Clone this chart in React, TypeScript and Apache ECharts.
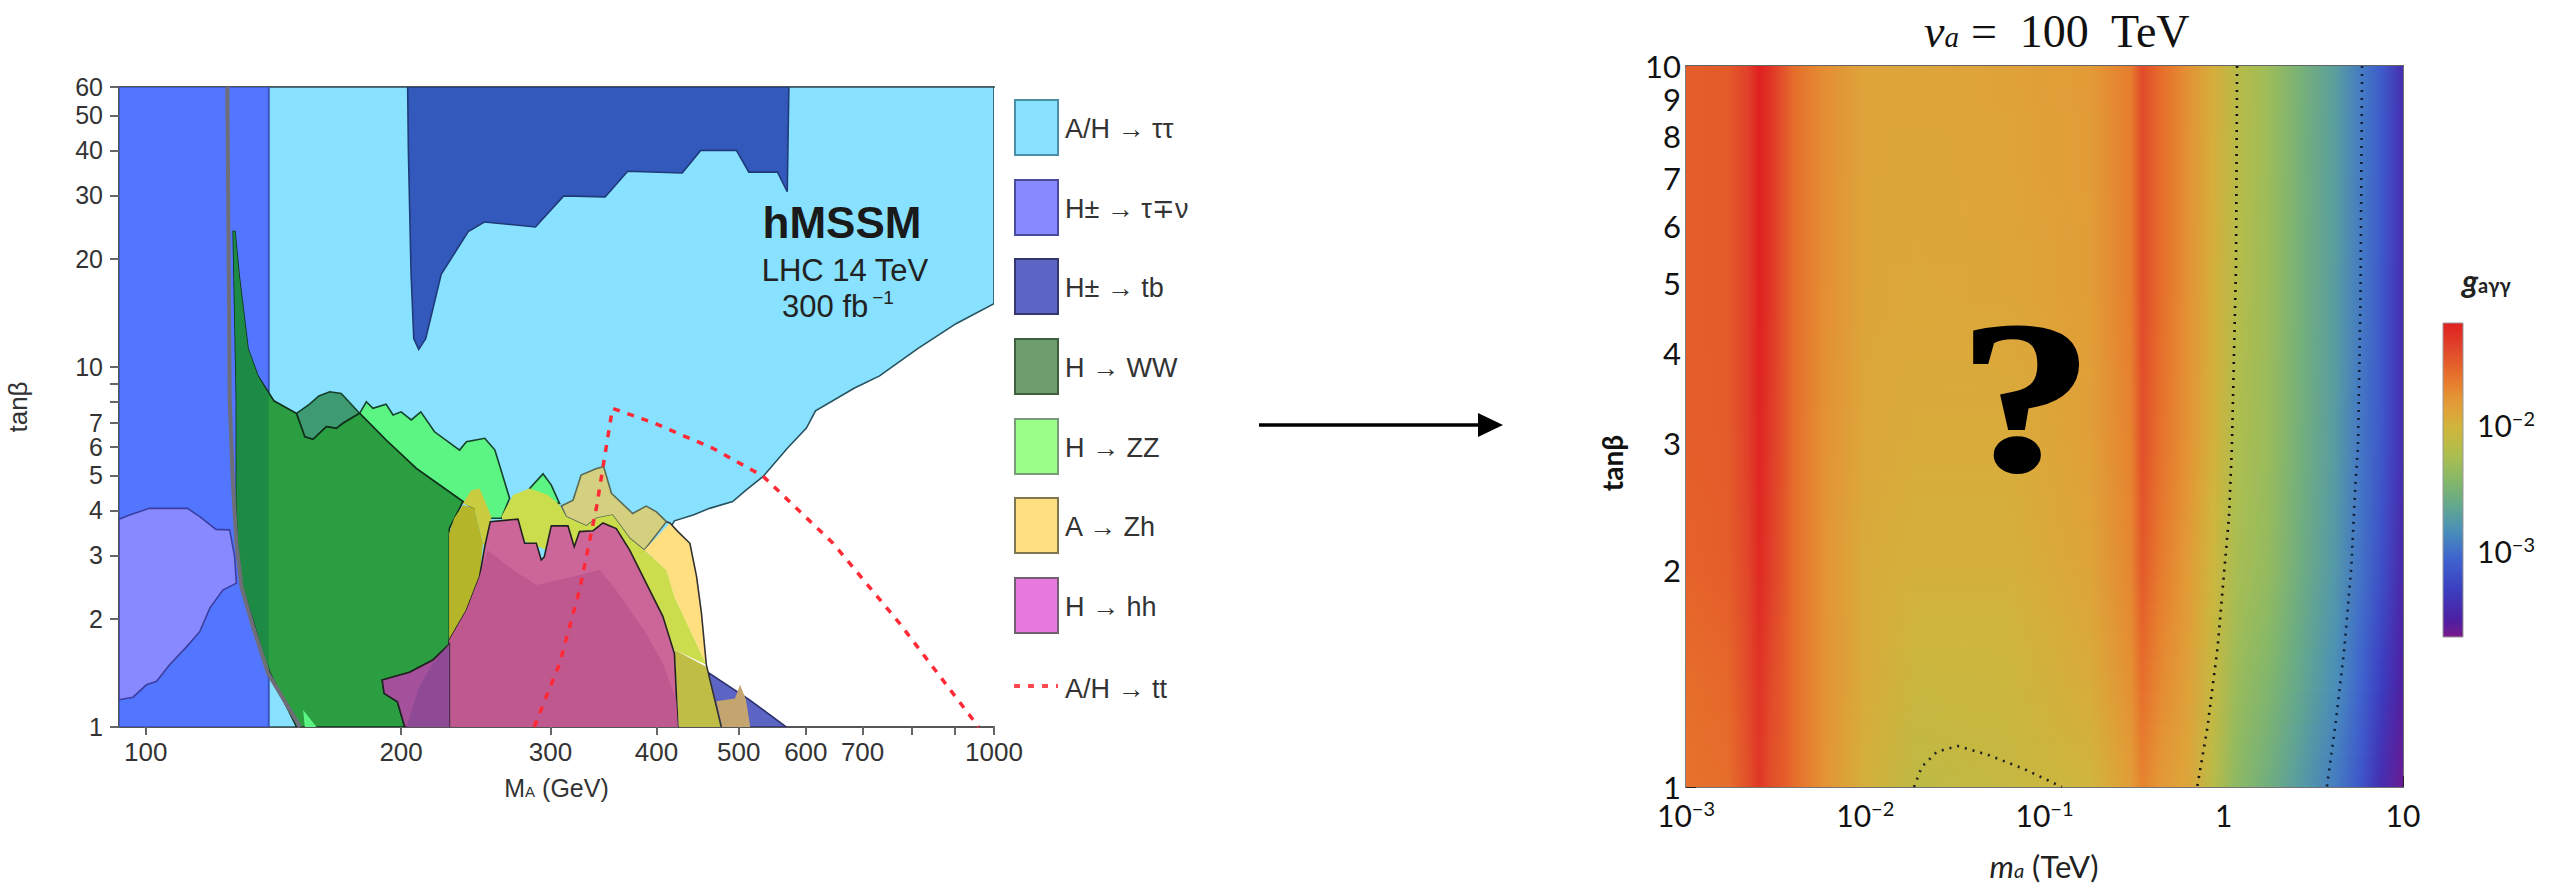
import React, { useEffect, useRef } from "react";
import * as echarts from "echarts";

// ---------- left panel: exclusion regions as [M_A (GeV), tanβ] ----------
const tauTau = [[139.6,60],[1000,60],[1000,15],[902,13.2],[813,11.25],[733,9.45],[684,8.73],[616,7.56],[601,6.77],[571,5.96],[534,4.96],[510,4.55],[492,4.23],[462,4.05],[442,3.88],[420,3.74],[300,1],[139.6,1]];
const tbTop = [[203.6,60],[204,40],[205.5,18.1],[207,12],[209.8,11.2],[213.8,12],[218,14.5],[223,18.1],[240,23.8],[250.7,25.3],[288,24.5],[311,29.9],[348,29.7],[370,35],[429,34.6],[451,40],[497,40],[514,34.8],[555.6,34.8],[570.5,30.7],[573,60]];
const tbBottom = [[462,1.41],[515,1.19],[569,1],[450,1]];
const lowMassBlue = [[93,60],[139.6,60],[139.6,1],[93,1]];
const tauNu = [[93,3.78],[95.7,3.88],[101,4.05],[112,4.05],[115.8,3.84],[121,3.54],[125.6,3.53],[127.3,2.97],[127.9,2.51],[123.3,2.4],[119,2.14],[115.8,1.84],[111.7,1.67],[106.7,1.49],[103,1.34],[100.2,1.31],[96.6,1.21],[93,1.19]];
const zz = [[178.7,7.44],[182,8.01],[185.3,7.68],[192,7.89],[195.7,7.36],[200,7.51],[205.6,7.13],[211,7.51],[219,6.61],[234.4,5.88],[238.8,6.2],[251,6.34],[258,5.88],[268.5,4.32],[262.6,3.8],[254,3.8],[236.6,4.23],[208.4,5.23],[192,6.27]];
const zzBump = [[283.5,4.6],[294,5.05],[300.7,4.7],[307.5,4.18],[286,4.18]];
const zzSliver = [[153.3,1.115],[159,1],[154,1]];
const wwTeal = [[150.6,7.44],[156,7.89],[160,8.31],[164.8,8.54],[170,8.45],[178.7,7.44],[170.8,6.98],[167.8,6.76],[163.3,6.83],[157.5,6.3],[154,6.4]];
const wwGreen = [[127.4,23.8],[128.8,18.1],[132,11.25],[135.6,9.45],[141.6,8.06],[150.5,7.44],[154,6.4],[157.5,6.3],[163.3,6.83],[167.8,6.76],[170.8,6.98],[178.7,7.44],[192,6.27],[208.4,5.23],[236.6,4.23],[228,3.56],[228,1.7],[218,1.535],[204.7,1.42],[190,1.35],[191,1.24],[198,1.175],[202,1],[150.6,1],[140,1.42],[134.4,1.94],[130.2,2.45],[128.5,3.24],[127.9,4.27],[127.9,8.1],[126.8,23.8]];
const wwOverBlue = [[127.4,23.8],[128.8,18.1],[132,11.25],[135.6,9.45],[139.6,8.4],[139.6,1.42],[134.4,1.94],[130.2,2.45],[128.5,3.24],[127.9,4.27],[127.9,8.1],[126.8,23.8]];
const zhKhaki = [[309,4.11],[319,4.27],[326,5.01],[340,5.23],[346.6,5.29],[354,4.46],[375,3.92],[389,4.11],[400,3.96],[411,3.72],[387,3.1],[372,3.34],[355,3.88],[340,3.8],[330.7,3.62],[313,3.84]];
const zhPale = [[387,3.1],[415,3.69],[424,3.49],[438,3.24],[446,2.62],[452,2.07],[458,1.49],[420,2.3],[411,2.73]];
const zhLime = [[262.6,3.84],[271,4.41],[283.5,4.6],[298,4.41],[307.5,4.14],[313,3.84],[330.7,3.62],[340,3.8],[355,3.88],[372,3.34],[387,3.1],[411,2.73],[420,2.3],[458,1.49],[420,1.64],[343,2.7],[270,3.4]];
const zhStrip = [[236.6,4.18],[242,4.55],[247.5,4.6],[255.6,3.84],[254.8,3.72],[251,3.17],[249.8,3.24],[244,4.05]];
const zhOlive = [[227.8,3.45],[231,3.8],[236.6,4.14],[244,4.05],[249.8,3.24],[247.5,2.62],[238.8,2.11],[227.8,1.74]];
const zhLower = [[420,1.64],[458,1.47],[477,1],[425,1]];
const zhOverTb = [[470.6,1.18],[495,1.2],[502,1.31],[510,1.19],[516,1],[478,1]];
const hhUpper = [[227.8,1],[227.8,1.74],[238.8,2.11],[247.5,2.62],[251,3.17],[254.8,3.72],[274.7,3.78],[279.7,3.24],[288.7,3.24],[292.6,2.91],[295,2.97],[300.7,3.62],[314.6,3.62],[320,3.17],[324.6,3.49],[336.8,3.51],[346,3.69],[358.7,3.56],[372,3.1],[389,2.51],[407,2.03],[420,1.6],[424,1]];
const hhLower = [[227.8,1],[227.8,1.74],[238.8,2.11],[247.5,2.62],[253,3.1],[271,2.73],[288.7,2.48],[313,2.59],[343,2.73],[358.7,2.4],[389,1.82],[407,1.5],[422,1.19],[424,1]];
const hhPurple = [[190,1.35],[191,1.24],[198,1.175],[202,1],[228,1],[228,1.7],[218,1.535],[204.7,1.42]];
const hhPurpleDark = [[203,1],[210,1.29],[218,1.5],[228,1.7],[228,1]];
const ttLine = [[287,1],[307.5,1.5],[324.6,2.4],[340,4.09],[355,7.68],[398,6.98],[466,5.95],[534,4.98],[646,3.24],[774,1.94],[959,1]];
const higgsCurve = [[124.8,60],[125.6,8.1],[126.7,4.75],[127.9,3.24],[129.7,2.45],[133.8,1.9],[139.4,1.41],[152,1]];
const zhEdge = [[411,3.72],[415,3.69],[424,3.49],[438,3.24],[446,2.62],[452,2.07],[458,1.49],[477,1]];

const leftXLabels = [100, 200, 300, 400, 500, 600, 700, 1000];
const leftXTicks = [100, 200, 300, 400, 500, 600, 700, 800, 900, 1000];
const leftYLabels = [1, 2, 3, 4, 5, 6, 7, 10, 20, 30, 40, 50, 60];
const leftYTicks = [1, 2, 3, 4, 5, 6, 7, 8, 9, 10, 20, 30, 40, 50, 60];

const legendNames = ["A/H → ττ", "H± → τ∓ν", "H± → tb", "H → WW", "H → ZZ", "A → Zh", "H → hh"];
const legendFills = ["#87E1FF", "#8888FF", "#5C64C4", "#6E9E6E", "#99FF88", "#FFDE7F", "#E678DE"];
const legendEdges = ["#4A8FA8", "#4A4AA0", "#33366F", "#3F5F3F", "#7A9A7A", "#807750", "#706070"];

// ---------- right panel: log10(g) per tanβ row at each m_a (TeV) ----------
const maStations = [0.001,0.00171,0.00222,0.00257,0.00299,0.00351,0.00401,0.00594,0.01,0.0194,0.0631,0.179,0.303,0.351,0.45,0.624,0.867,1.2,1.78,2.63,4.17,5.79,7.53,10];
const tanRows = [10, 5, 3, 2, 1.4, 1];
const logG10 = [-1.49,-1.47,-1.34,-1.17,-1.29,-1.44,-1.57,-1.73,-1.88,-1.89,-1.86,-1.8,-1.64,-1.39,-1.57,-1.74,-1.94,-2.14,-2.29,-2.49,-2.69,-2.91,-3.08,-3.41];
const logG5 = [-1.49,-1.47,-1.34,-1.17,-1.29,-1.44,-1.57,-1.73,-1.89,-1.9,-1.89,-1.82,-1.64,-1.39,-1.57,-1.74,-1.95,-2.16,-2.3,-2.5,-2.7,-2.92,-3.1,-3.41];
const logG3 = [-1.49,-1.48,-1.34,-1.19,-1.32,-1.44,-1.57,-1.75,-1.9,-1.93,-1.93,-1.84,-1.67,-1.42,-1.59,-1.75,-1.96,-2.21,-2.31,-2.51,-2.71,-2.94,-3.11,-3.41];
const logG2 = [-1.52,-1.49,-1.37,-1.22,-1.34,-1.45,-1.57,-1.76,-1.93,-1.96,-1.96,-1.88,-1.69,-1.47,-1.64,-1.79,-2.01,-2.24,-2.34,-2.54,-2.74,-2.96,-3.16,-3.46];
const logG14 = [-1.57,-1.54,-1.39,-1.27,-1.39,-1.47,-1.57,-1.75,-1.93,-2.03,-2.02,-1.93,-1.74,-1.57,-1.71,-1.84,-2.06,-2.31,-2.44,-2.61,-2.81,-3.03,-3.28,-3.53];
const logG1 = [-1.59,-1.57,-1.42,-1.29,-1.42,-1.47,-1.57,-1.76,-1.96,-2.11,-2.06,-1.99,-1.81,-1.67,-1.79,-1.89,-2.14,-2.39,-2.54,-2.71,-2.91,-3.13,-3.41,-3.61];
const logGRows = [logG10, logG5, logG3, logG2, logG14, logG1];

const contourA = [[1.187,10],[1.17,5.26],[1.11,2.96],[1.07,2.37],[1,1.96],[0.925,1.565],[0.811,1.21],[0.711,1]];
const contourB = [[5.91,10],[5.79,4.74],[5.61,2.96],[5.43,2.64],[5.15,2.02],[4.7,1.55],[4.18,1.21],[3.76,1]];
const contourC = [[0.0187,1],[0.0207,1.067],[0.0251,1.119],[0.0327,1.14],[0.0484,1.108],[0.0765,1.06],[0.125,1]];

const rightXLabels = [0.001, 0.01, 0.1, 1, 10];
const rightYLabels = [1, 2, 3, 4, 5, 6, 7, 8, 9, 10];

// colour bar
const gMin = 2.2e-4;
const gMax = 0.068;
const barPalette: [number, string][] = [[0,"#E02020"],[0.07,"#E0402A"],[0.15,"#E6682A"],[0.2,"#E6822F"],[0.25,"#E39A36"],[0.29,"#DDA53A"],[0.33,"#D0B53C"],[0.38,"#BDBA45"],[0.42,"#ACBE50"],[0.5,"#86B868"],[0.58,"#64A88C"],[0.66,"#4A90B8"],[0.75,"#3F64CE"],[0.85,"#3C3EC0"],[0.95,"#4F1EA0"],[1,"#7A1A8C"]];
const barLabels = [0.01, 0.001];
const barTicks = [0.06,0.05,0.04,0.03,0.02,0.01,0.009,0.008,0.007,0.006,0.005,0.004,0.003,0.002,0.001,0.0009,0.0008,0.0007,0.0006,0.0005,0.0004,0.0003];

const hex = (c: string) => [1, 3, 5].map((i) => parseInt(c.slice(i, i + 2), 16));
function paletteAt(t: number) {
  const v = Math.max(0, Math.min(1, t));
  for (let i = 1; i < barPalette.length; i++) {
    if (v <= barPalette[i][0]) {
      const [t0, c0] = barPalette[i - 1];
      const [t1, c1] = barPalette[i];
      const f = (v - t0) / (t1 - t0);
      const a = hex(c0), b = hex(c1);
      return `rgb(${a.map((x, k) => Math.round(x + (b[k] - x) * f)).join(",")})`;
    }
  }
  return barPalette[barPalette.length - 1][1];
}
const logTop = Math.log10(gMax);
const logBottom = Math.log10(gMin);
const colorOf = (logG: number) => paletteAt((logTop - logG) / (logTop - logBottom));

const SANS = "Liberation Sans";
const RIGHT = "Lato";

function region(name: string, points: number[][], fill: string, stroke?: string) {
  return {
    type: "custom", name, coordinateSystem: "cartesian2d", xAxisIndex: 0, yAxisIndex: 0,
    data: points, encode: { x: 0, y: 1 }, silent: true, clip: true,
    renderItem: (p: any, api: any) =>
      p.dataIndex === 0
        ? { type: "polygon", shape: { points: points.map((q) => api.coord(q)) },
            style: { fill, stroke: stroke ?? "none", lineWidth: stroke ? 1.6 : 0 } }
        : null,
  };
}
function edge(name: string, points: number[][], color: string, width: number, type: any, xi = 0, yi = 0) {
  return { type: "line", name, xAxisIndex: xi, yAxisIndex: yi, data: points, showSymbol: false, symbol: "none",
    silent: true, lineStyle: { color, width, type }, z: 5 };
}
const powerLabel = (v: number) => {
  if (v === 1) return "{n|1}";
  if (v === 10) return "{n|10}";
  return `{n|10}{e|−${Math.round(-Math.log10(v))}}`;
};
const powerRich = {
  n: { fontFamily: RIGHT, fontSize: 30, color: "#111", lineHeight: 24, verticalAlign: "bottom" },
  e: { fontFamily: RIGHT, fontSize: 20, color: "#111", lineHeight: 20, padding: [0, 0, 12, 0], verticalAlign: "bottom" },
};

function buildOption() {
  const slices: number[][] = [];
  const perRow = 10;
  for (let r = 0; r < tanRows.length - 1; r++) for (let s = 0; s < perRow; s++) slices.push([r, s]);

  const heat = {
    type: "custom", name: "g_aγγ", coordinateSystem: "cartesian2d", xAxisIndex: 2, yAxisIndex: 2,
    data: slices, silent: true,
    renderItem: (p: any, api: any) => {
      const [r, s] = slices[p.dataIndex];
      const lt0 = Math.log10(tanRows[r]), lt1 = Math.log10(tanRows[r + 1]);
      const a = 10 ** (lt0 + ((lt1 - lt0) * s) / perRow);
      const b = 10 ** (lt0 + ((lt1 - lt0) * (s + 1)) / perRow);
      const f = (s + 0.5) / perRow;
      const p0 = api.coord([maStations[0], a]);
      const p1 = api.coord([maStations[maStations.length - 1], b]);
      const stops = maStations.map((m, i) => ({
        offset: (Math.log10(m) + 3) / 4,
        color: colorOf(logGRows[r][i] + (logGRows[r + 1][i] - logGRows[r][i]) * f),
      }));
      const bottomSlice = r === tanRows.length - 2 && s === perRow - 1;
      return { type: "rect", shape: { x: p0[0], y: p0[1], width: p1[0] - p0[0], height: p1[1] - p0[1] + (bottomSlice ? 0 : 1) },
        style: { fill: new echarts.graphic.LinearGradient(0, 0, 1, 0, stops) } };
    },
  };
  const bar = {
    type: "custom", name: "colour bar", coordinateSystem: "cartesian2d", xAxisIndex: 4, yAxisIndex: 3,
    data: [[0, gMax]], silent: true,
    renderItem: (_: any, api: any) => {
      const a = api.coord([0, gMax]);
      const b = api.coord([1, gMin]);
      return { type: "rect", shape: { x: a[0], y: a[1], width: b[0] - a[0], height: b[1] - a[1] },
        style: { fill: new echarts.graphic.LinearGradient(0, 0, 0, 1, barPalette.map(([offset, color]) => ({ offset, color }))),
          stroke: "#999", lineWidth: 1 } };
    },
  };

  const graphics: any[] = [];
  const txt = (text: string, x: number, y: number, fontSize: number, o: any = {}) =>
    graphics.push({ type: "text", x, y, z: 100, rotation: o.rotation ?? 0, scaleX: o.scaleX ?? 1,
      style: { text, fontSize, fontFamily: o.fontFamily ?? SANS, fontWeight: o.fontWeight ?? "normal", fontStyle: o.fontStyle ?? "normal",
        fill: o.fill ?? "#222", stroke: o.stroke, lineWidth: o.lineWidth, align: o.align ?? "left", verticalAlign: "middle", rich: o.rich } });

  const swY = [100, 180, 259, 339, 419, 498, 578];
  legendNames.forEach((n, i) => {
    graphics.push({ type: "rect", z: 100, shape: { x: 1015, y: swY[i], width: 43, height: 55 },
      style: { fill: legendFills[i], stroke: legendEdges[i], lineWidth: 2 } });
    txt(n, 1065, swY[i] + 29, 27, { fill: "#333" });
  });
  graphics.push({ type: "line", z: 100, shape: { x1: 1014, y1: 686, x2: 1058, y2: 686 },
    style: { stroke: "#FF4A50", lineWidth: 4, lineDash: [6, 8] } });
  txt("A/H → tt", 1065, 689, 27, { fill: "#333" });

  txt("hMSSM", 842, 222, 44, { align: "center", fontWeight: "bold", fill: "#1a1a1a" });
  txt("LHC 14 TeV", 845, 270, 31, { align: "center", fill: "#222" });
  txt("{a|300 fb}{b|−1}", 838, 306, 31, { align: "center", rich: {
    a: { fontFamily: SANS, fontSize: 31, color: "#222" },
    b: { fontFamily: SANS, fontSize: 19, color: "#222", padding: [0, 0, 18, 4] } } });

  // arrow between the panels
  graphics.push({ type: "line", z: 100, shape: { x1: 1259, y1: 425, x2: 1482, y2: 425 }, style: { stroke: "#000", lineWidth: 3.5 } });
  graphics.push({ type: "polygon", z: 100, shape: { points: [[1478, 413], [1503, 425], [1478, 437]] }, style: { fill: "#000" } });

  txt("?", 2026, 397, 215, { align: "center", fontFamily: "Liberation Serif", fontWeight: "bold", fill: "#000", scaleX: 1.25, stroke: "#000", lineWidth: 3 });
  txt("tanβ", 1612, 463, 28, { align: "center", fontFamily: RIGHT, fontWeight: "bold", rotation: Math.PI / 2, fill: "#111" });
  txt("{g|g}{s|aγγ}", 2462, 280, 30, { rich: {
    g: { fontFamily: RIGHT, fontStyle: "italic", fontWeight: "bold", fontSize: 32, color: "#111" },
    s: { fontFamily: RIGHT, fontWeight: "bold", fontSize: 20, color: "#111", padding: [10, 0, 0, 0] } } });
  txt("{i|m}{j|a}{k| (TeV)}", 2044, 866, 31, { align: "center", rich: {
    i: { fontFamily: RIGHT, fontStyle: "italic", fontSize: 31, color: "#111" },
    j: { fontFamily: RIGHT, fontStyle: "italic", fontSize: 20, color: "#111", padding: [8, 0, 0, 0] },
    k: { fontFamily: RIGHT, fontSize: 31, color: "#111" } } });

  const logAxis = (extra: any) => ({ type: "log", logBase: 10, splitLine: { show: false }, minorTick: { show: false }, ...extra });
  const blankLine = (color: string, width = 2) => ({ show: true, onZero: false, lineStyle: { color, width } });

  return {
    animation: false,
    backgroundColor: "#fff",
    title: {
      text: "{v|v}{a|a}{t| =  100  TeV}", left: 2052, top: 3, textAlign: "center",
      textStyle: { fontWeight: "normal", rich: {
        v: { fontFamily: "Liberation Serif", fontStyle: "italic", fontWeight: "normal", fontSize: 46, color: "#111" },
        a: { fontFamily: "Liberation Serif", fontStyle: "italic", fontWeight: "normal", fontSize: 29, color: "#111", padding: [12, 0, 0, 0] },
        t: { fontFamily: "Liberation Serif", fontWeight: "normal", fontSize: 46, color: "#111" },
      } },
    },
    grid: [
      { left: 119, top: 87, width: 875, height: 640, outerBoundsMode: "none" },
      { left: 1686, top: 66, width: 717, height: 721, outerBoundsMode: "none" },
      { left: 2443, top: 323, width: 20, height: 314, outerBoundsMode: "none" },
    ],
    xAxis: [
      logAxis({ gridIndex: 0, min: 93, max: 1000, position: "bottom", axisLine: blankLine("#555"),
        axisTick: { show: true, length: 8, customValues: leftXTicks, lineStyle: { color: "#666", width: 2 } },
        axisLabel: { show: true, customValues: leftXLabels, formatter: (v: number) => String(Math.round(v)), fontFamily: SANS, fontSize: 26, color: "#333", margin: 12 },
        name: "{m|M}{s|A}{m| (GeV)}", nameLocation: "middle", nameGap: 48,
        nameTextStyle: { rich: { m: { fontFamily: SANS, fontSize: 25, color: "#333" }, s: { fontFamily: SANS, fontSize: 15, color: "#333", padding: [8, 0, 0, 0] } } } }),
      logAxis({ gridIndex: 0, min: 93, max: 1000, position: "top", axisLine: blankLine("#555"), axisTick: { show: false }, axisLabel: { show: false } }),
      logAxis({ gridIndex: 1, min: 0.001, max: 10, position: "bottom", axisLine: blankLine("#444", 1.5),
        axisTick: { show: true, inside: true, length: 11, customValues: rightXLabels, lineStyle: { color: "#222", width: 1 } },
        axisLabel: { show: true, customValues: rightXLabels, formatter: powerLabel, rich: powerRich, margin: 19 } }),
      logAxis({ gridIndex: 1, min: 0.001, max: 10, position: "top", axisLine: blankLine("#333", 1.5), axisTick: { show: false }, axisLabel: { show: false } }),
      { type: "value", gridIndex: 2, min: 0, max: 1, show: false },
    ],
    yAxis: [
      logAxis({ gridIndex: 0, min: 1, max: 60, position: "left", axisLine: blankLine("#555"),
        axisTick: { show: true, length: 9, customValues: leftYTicks, lineStyle: { color: "#666", width: 2 } },
        axisLabel: { show: true, customValues: leftYLabels, formatter: (v: number) => String(Math.round(v)), fontFamily: SANS, fontSize: 25, lineHeight: 20, color: "#333", margin: 16 },
        name: "tanβ", nameLocation: "middle", nameGap: 88, nameTextStyle: { fontFamily: SANS, fontSize: 26, color: "#333" } }),
      logAxis({ gridIndex: 1, min: 1, max: 10, position: "left", axisLine: blankLine("#555", 1.5),
        axisTick: { show: true, inside: true, length: 10, customValues: rightYLabels, lineStyle: { color: "#222", width: 1 } },
        axisLabel: { show: true, customValues: rightYLabels, formatter: (v: number) => String(Math.round(v)), fontFamily: RIGHT, fontSize: 31, lineHeight: 22, color: "#111", margin: 5 } }),
      logAxis({ gridIndex: 1, min: 1, max: 10, position: "right", axisLine: blankLine("#444", 1.5), axisTick: { show: false }, axisLabel: { show: false } }),
      logAxis({ gridIndex: 2, min: gMin, max: gMax, position: "right", axisLine: { show: false },
        axisTick: { show: true, length: 7, customValues: barTicks, lineStyle: { color: "#999", width: 1.5 } },
        axisLabel: { show: true, customValues: barLabels, formatter: powerLabel, rich: powerRich, margin: 14 } }),
    ],
    graphic: graphics,
    series: [
      region("A/H → ττ", tauTau, "#87E1FF", "#27525F"),
      region("H± → tb", tbTop, "#3359BD", "#1F3A78"),
      region("H± → tb low", tbBottom, "#5C64C4", "#2A2F6A"),
      region("low mass", lowMassBlue, "#5276FF", "#3A4FC0"),
      region("H± → τν", tauNu, "#8888FF", "#3A3FA0"),
      region("H → ZZ", zz, "#5CF584", "#15402A"),
      region("H → ZZ bump", zzBump, "#5CF584", "#15402A"),
      region("H → WW over ττ", wwTeal, "#3E9A70", "#15402A"),
      region("H → WW", wwGreen, "#2A9E40", "#10301A"),
      region("H → WW over blue", wwOverBlue, "#1D8A45"),
      region("H → ZZ sliver", zzSliver, "#5CF584"),
      region("A → Zh over ττ", zhKhaki, "#D4D080", "#5A6A55"),
      region("A → Zh", zhPale, "#FFDF80"),
      region("A → Zh over ZZ", zhLime, "#CBDC4C"),
      region("A → Zh strip", zhStrip, "#C9CC3F"),
      region("A → Zh over WW", zhOlive, "#B5B52A"),
      region("A → Zh low", zhLower, "#BFBD45"),
      region("A → Zh over tb", zhOverTb, "#C4A56F"),
      region("H → hh", hhUpper, "#CC6699", "#222222"),
      region("H → hh inner", hhLower, "#C05890"),
      region("H → hh over WW", hhPurple, "#A5509A", "#222222"),
      region("H → hh over WW dark", hhPurpleDark, "#8F4A95"),
      edge("Zh edge", zhEdge, "#333", 1.6, "solid"),
      edge("Higgs limit", higgsCurve, "#6E6E78", 4, "solid"),
      edge("A/H → tt", ttLine, "#FF2A35", 3.5, [7, 8]),
      heat,
      edge("contour 1", contourA, "#111", 2.6, [2, 6], 2, 1),
      edge("contour 2", contourB, "#10203a", 2.6, [2, 6], 2, 1),
      edge("contour 3", contourC, "#222", 2.6, [2, 6], 2, 1),
      bar,
    ],
  };
}

export default function App() {
  const ref = useRef<HTMLDivElement>(null);
  useEffect(() => {
    const chart = echarts.init(ref.current!, undefined, { renderer: "svg" });
    chart.setOption(buildOption() as any);
    return () => chart.dispose();
  }, []);
  return <div ref={ref} style={{ position: "fixed", left: 0, top: 0, width: 2561, height: 884 }} />;
}
